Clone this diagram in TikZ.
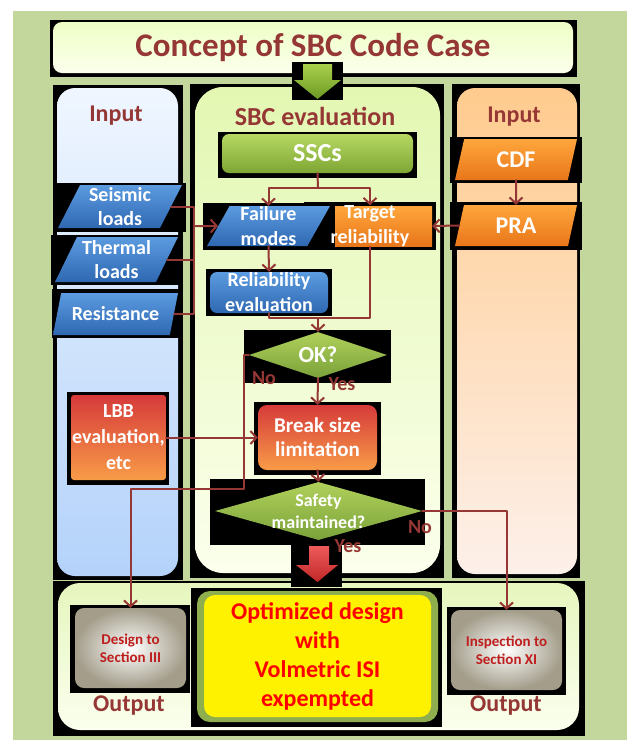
\documentclass[tikz,border=0pt]{standalone}
\usepackage{fontspec}
\setmainfont{Carlito}
\usetikzlibrary{arrows.meta, shapes.geometric, positioning}
\definecolor{bggreen}{HTML}{C3D69B}
\definecolor{dred}{HTML}{953735}
\definecolor{pblue1}{HTML}{5C9BE0}
\definecolor{pblue2}{HTML}{2E68B2}
\definecolor{porg1}{HTML}{FFA63C}
\definecolor{porg2}{HTML}{E8761A}
\definecolor{sgreen1}{HTML}{B6D862}
\definecolor{sgreen2}{HTML}{7EA634}
\definecolor{dgreen1}{HTML}{B0D05A}
\definecolor{dgreen2}{HTML}{7AA23A}
\definecolor{bred1}{HTML}{D63A3A}
\definecolor{bred2}{HTML}{F89C48}
\definecolor{gbox}{HTML}{A39D8A}
\definecolor{btext}{HTML}{BE1E1E}
\definecolor{ygreen}{HTML}{8FAF4F}
\definecolor{lefttop}{HTML}{EFF6FF}
\definecolor{leftbot}{HTML}{B4D2FA}
\definecolor{midtop}{HTML}{E3F7B2}
\definecolor{midbot}{HTML}{FBFFEC}
\definecolor{righttop}{HTML}{FFCB8E}
\definecolor{rightbot}{HTML}{FDF0EA}
\definecolor{stripetop}{HTML}{E6F6BE}
\definecolor{stripebot}{HTML}{FBFFEE}
\definecolor{titletop}{HTML}{EEFFC6}
\definecolor{titlebot}{HTML}{FBFFEC}
\definecolor{arrgreen1}{HTML}{AAD04C}
\definecolor{arrgreen2}{HTML}{6C9A24}
\definecolor{arrred1}{HTML}{EC5A5A}
\definecolor{arrred2}{HTML}{C22828}
\begin{document}
\begin{tikzpicture}[x=1pt,y=-1pt,line cap=round,line join=round,
  >={Straight Barb[length=6pt,width=13pt,line width=2pt]},
  hdr/.style={text=dred, font=\fontsize{24}{28}\selectfont\bfseries},
  wtxt/.style={text=white, align=center, font=\fontsize{20}{24}\selectfont\bfseries},
  para/.style={trapezium, trapezium left angle=60, trapezium right angle=120,
    trapezium stretches body, inner sep=0pt, wtxt},
  bluepara/.style={para, top color=pblue1, bottom color=pblue2},
  orgpara/.style={para, top color=porg1, bottom color=porg2},
  rbox/.style={rectangle, rounded corners=7pt, inner sep=0pt, wtxt},
  dec/.style={diamond, inner sep=0pt, top color=dgreen1, bottom color=dgreen2},
  greybox/.style={rectangle, rounded corners=9pt, inner sep=0pt, inner color=white, outer color=gbox,
    text=btext, align=center, font=\fontsize{15}{18}\selectfont\bfseries},
  conn/.style={draw=dred, line width=2pt},
  lbl/.style={text=dred, font=\fontsize{20}{24}\selectfont\bfseries}]
\useasboundingbox (0,0) rectangle (627,740);
\fill[white] (0,0) rectangle (627,740);
\fill[bggreen] (13,11) rectangle (627,740);

% frames of the title, the three columns and the output strip
\fill (50,20) rectangle (577,77);
\fill (53,85) rectangle (183,580);
\fill (190,84) rectangle (444,578);
\fill (452,84) rectangle (580,578);
\fill (53,581) rectangle (585,736);
\shade[rounded corners=18pt, top color=lefttop, bottom color=leftbot] (57,88) rectangle (178,576);
\shade[rounded corners=28pt, top color=midtop, bottom color=midbot] (195,87) rectangle (440,573);
\shade[rounded corners=18pt, top color=righttop, bottom color=rightbot] (457,88) rectangle (577,574);
\shade[rounded corners=22pt, top color=stripetop, bottom color=stripebot] (58,583) rectangle (579,730);
\node[rectangle, rounded corners=9pt, minimum width=520, minimum height=51,
  top color=titletop, bottom color=titlebot, text=dred,
  font=\fontsize{33}{37}\selectfont\bfseries] (title) at (313,47.5) {Concept of SBC Code Case};

\node[hdr] (inleft) at (116,116) {Input};
\node[hdr, font=\fontsize{26}{30}\selectfont\bfseries] (sbc) at (315,116) {SBC evaluation};
\node[hdr] (inright) at (514,117) {Input};

% block arrows
\fill (292,62) rectangle (343,100);
\shade[top color=arrgreen1, bottom color=arrgreen2] (303,64) -- (332,64) -- (332,80) -- (341,80)
  -- (317.5,99) -- (294,80) -- (303,80) -- cycle;
\fill (291,545) rectangle (342,587);
\shade[top color=arrred1, bottom color=arrred2] (309,546) -- (329,546) -- (329,565) -- (338,565)
  -- (317.5,582) -- (296,565) -- (309,565) -- cycle;

% black backings of the boxes
\foreach \xa/\ya/\xb/\yb in {57/183/186/232, 51/235/183/285, 52/289/182/338, 218/132/417/178,
  203/203/330/250, 304/202/436/250, 206/269/332/316, 244/330/391/383, 67/392/169/485,
  254/402/381/475, 210/479/425/545, 450/137/582/183, 450/202/582/250, 70/605/190/693,
  191/588/442/727, 447/607/566/695}
  \fill (\xa,\ya) rectangle (\xb,\yb);

% inputs
\node[bluepara, minimum width=124, minimum height=43] (seis) at (120,206.5) {Seismic\\loads};
\node[bluepara, minimum width=123, minimum height=45] (therm) at (116.5,259.5) {Thermal\\loads};
\node[bluepara, minimum width=125, minimum height=42] (resist) at (115.5,314) {Resistance};
\node[orgpara, minimum width=122, minimum height=41, font=\fontsize{24}{28}\selectfont\bfseries] (cdf) at (516,159.5) {CDF};
\node[orgpara, minimum width=122, minimum height=41, font=\fontsize{24}{28}\selectfont\bfseries] (pra) at (516,225.5) {PRA};
\node[rbox, minimum width=95, minimum height=85, rounded corners=3pt, top color=bred1, bottom color=bred2,
  font=\fontsize{20}{26}\selectfont\bfseries] (lbb) at (118.5,437.5) {LBB\\evaluation,\\etc};

% evaluation
\node[rbox, minimum width=191, minimum height=39, top color=sgreen1, bottom color=sgreen2,
  font=\fontsize{26}{30}\selectfont\bfseries] (sscs) at (317.5,153.5) {SSCs};
\node[bluepara, minimum width=123, minimum height=40, font=\fontsize{20}{25}\selectfont\bfseries] (fail) at (268.5,226) {Failure\\modes};
\node[trapezium, trapezium left angle=90, trapezium right angle=120, trapezium stretches body,
  minimum width=97, minimum height=40, inner sep=0pt, top color=porg1, bottom color=porg2] (tgt) at (383.5,226) {};
\node[wtxt, minimum height=40, inner sep=0pt, font=\fontsize{20}{25}\selectfont\bfseries] (tgtxt) at (370,226) {Target\\reliability};
\node[rbox, minimum width=118, minimum height=41, top color=pblue1, bottom color=pblue2,
  font=\fontsize{20}{25}\selectfont\bfseries] (releval) at (269,292.5) {Reliability\\evaluation};
\node[dec, minimum width=138, minimum height=46,
  label={[wtxt, font=\fontsize{23}{27}\selectfont\bfseries]center:OK?}] (ok) at (318,355) {};
\node[rbox, minimum width=119, minimum height=65, rounded corners=9pt, top color=bred1, bottom color=bred2,
  font=\fontsize{21}{24}\selectfont\bfseries] (brk) at (317.5,437.5) {Break size\\limitation};
\node[dec, minimum width=207, minimum height=58,
  label={[wtxt, font=\fontsize{18}{22}\selectfont\bfseries]center:Safety\\maintained?}] (safe) at (318.5,511) {};

% outputs
\node[greybox, minimum width=111, minimum height=80] (design) at (130.5,648) {Design to\\Section III};
\node[greybox, minimum width=111, minimum height=80] (insp) at (506.5,650) {Inspection to\\Section XI};
\node[rectangle, rounded corners=13pt, fill=ygreen, minimum width=241, minimum height=131] (optrim) at (317.5,656.5) {};
\node[rectangle, rounded corners=11pt, fill=yellow, minimum width=227, minimum height=122, text=red,
  align=center, font=\fontsize{24}{29}\selectfont\bfseries] (opt) at (317.5,656) {Optimized design\\with\\Volmetric ISI\\expempted};
\node[hdr] (outleft) at (129,706) {Output};
\node[hdr] (outright) at (506,706) {Output};

% connectors
\coordinate (split) at (318,188);
\draw[conn] (sscs.south) -- (split);
\draw[conn,->] (split) -| (fail.north);
\draw[conn,->] (split) -| (tgtxt.north);
\coordinate (bus) at (194,226);
\draw[conn] (seis.east) -| (bus);
\draw[conn] (therm.east) -| (bus);
\draw[conn] (resist.east) -| (bus);
\draw[conn,->] (bus) -- (fail.west);
\draw[conn,->] (cdf.south) -- (pra.north);
\draw[conn,->] (pra.west) -- (tgt.east);
\draw[conn,->] (fail.south) -- (releval.north);
\coordinate (merge) at (318,318);
\draw[conn] (releval.south) |- (merge) -| (tgtxt.south);
\draw[conn,->] (merge) -- (ok.north);
\draw[conn,->] (ok.south) -- (brk.north);
\coordinate (noturn) at (244,489);
\draw[conn,->] (ok.west) -| (noturn) -| (design.north);
\draw[conn,->] (lbb.east) -- (brk.west);
\draw[conn,->] (brk.south) -- (safe.north);
\draw[conn,->] (safe.east) -| (insp.north);

\node[lbl] (yes1) at (342,384) {Yes};
\node[lbl] (no1) at (264,378) {No};
\node[lbl] (no2) at (420,527) {No};
\node[lbl] (yes2) at (348,546) {Yes};
\end{tikzpicture}
\end{document}
